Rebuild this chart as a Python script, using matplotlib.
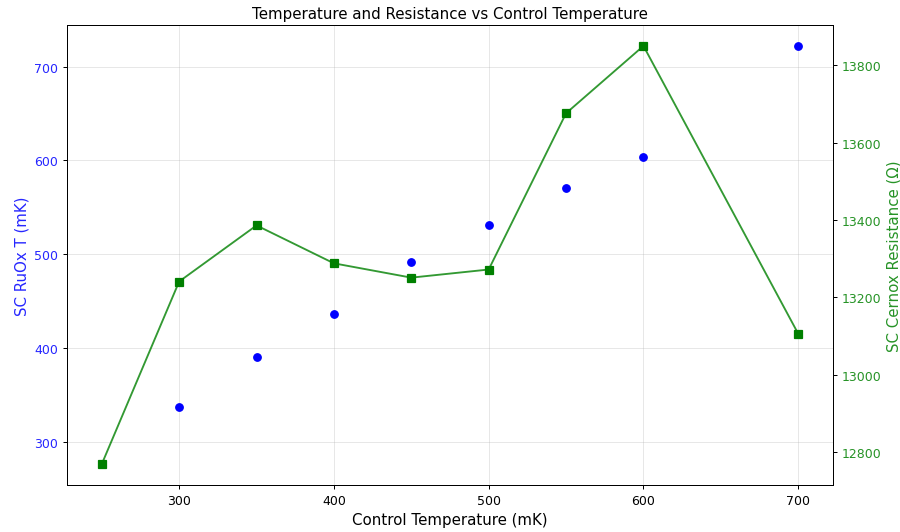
import matplotlib
matplotlib.use("Agg")
import matplotlib.pyplot as plt

control_temp = [250, 300, 350, 400, 450, 500, 550, 600, 700]
ruox_temp = [276, 337, 390, 436, 492, 531, 570, 604, 722]
cernox_res = [12769, 13241, 13386, 13288, 13251, 13272, 13676, 13850, 13106]

fig, ax1 = plt.subplots(figsize=(10, 5.922), dpi=90)
fig.subplots_adjust(left=0.0744, right=0.9256, top=0.9512, bottom=0.0882)

ax1.scatter(control_temp, ruox_temp, color='blue', s=36, zorder=3)
ax1.set_xlabel('Control Temperature (mK)', fontsize=12)
ax1.set_ylabel('SC RuOx T (mK)', color='blue', fontsize=12, alpha=0.85)
ax1.tick_params(axis='y', labelcolor='blue')
for t in ax1.get_yticklabels():
    t.set_alpha(0.85)
ax1.grid(True, alpha=0.3)

ax2 = ax1.twinx()
ax2.plot(control_temp, cernox_res, color='green', linestyle='-', linewidth=1.5, alpha=0.8)
ax2.plot(control_temp, cernox_res, color='green', marker='s', linestyle='none', markersize=6)
ax2.set_ylabel('SC Cernox Resistance (Ω)', color='green', fontsize=12, alpha=0.85)
ax2.tick_params(axis='y', labelcolor='green')
for t in ax2.get_yticklabels():
    t.set_alpha(0.85)

ax1.set_title('Temperature and Resistance vs Control Temperature', fontsize=12)

fig.savefig('out.png', dpi=90)
